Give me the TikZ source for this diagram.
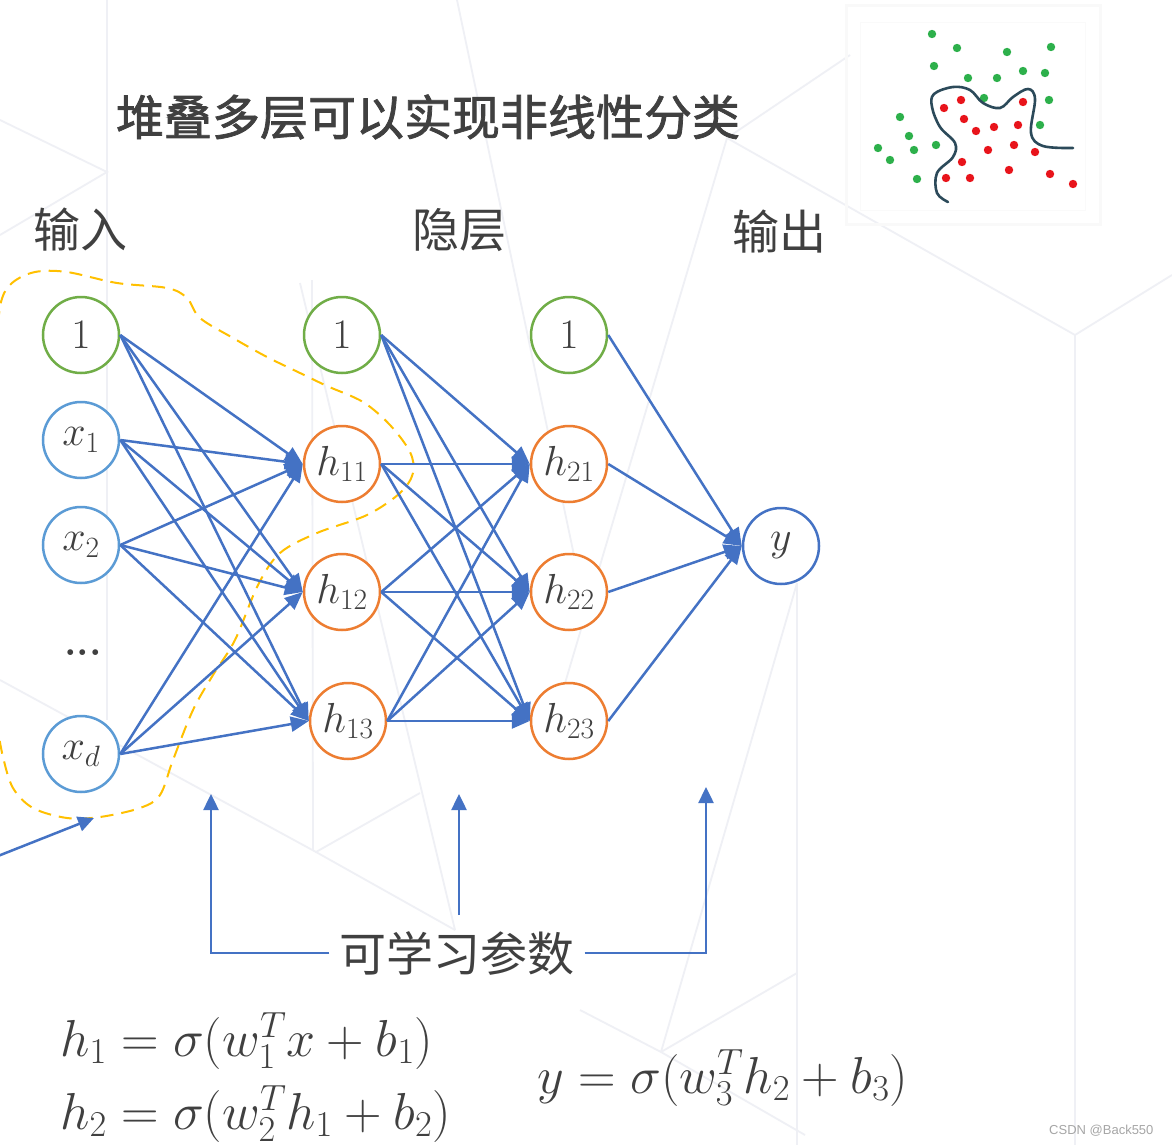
\RequirePackage{fix-cm}
\documentclass[tikz,border=0pt]{standalone}
\usepackage{fontspec}
\newfontfamily\cjk{Noto Sans CJK SC}
\newfontfamily\cjkt{Noto Sans CJK SC}[FakeBold=1.6]
\newfontfamily\wmfont{Liberation Sans}
\usetikzlibrary{arrows.meta}
\definecolor{eblue}{HTML}{4472C4}
\definecolor{cgreen}{HTML}{70AD47}
\definecolor{cin}{HTML}{5B9BD5}
\definecolor{corange}{HTML}{ED7D31}
\definecolor{cyellow}{HTML}{FFC000}
\definecolor{ctext}{HTML}{404040}
\definecolor{bgl}{HTML}{EFF0F5}
\definecolor{dgreen}{HTML}{2DB04B}
\definecolor{dred}{HTML}{E8141B}
\definecolor{cslate}{HTML}{2C4A5A}
\begin{document}
\begin{tikzpicture}[x=1pt,y=-1pt,
  neuron/.style={circle,draw,line width=2.5pt,minimum size=76pt,inner sep=0pt,fill=white,
    text=ctext,font=\fontsize{42}{50}\selectfont},
  bias/.style={neuron,draw=cgreen},
  inp/.style={neuron,draw=cin},
  hid/.style={neuron,draw=corange},
  outn/.style={neuron,draw=eblue},
  edge/.style={draw=eblue,line width=2.5pt,-{Triangle[length=18pt,width=15pt]}},
  barrow/.style={draw=eblue,line width=2.5pt,-{Triangle[length=16pt,width=15pt]}},
  lbl/.style={text=ctext,font=\cjk\fontsize{47}{55}\selectfont,inner sep=10pt},
  frm/.style={text=ctext,font=\fontsize{52}{62}\selectfont,inner sep=0pt},
  bgline/.style={draw=bgl,line width=1.8pt},
  gdot/.style={fill=dgreen},
  rdot/.style={fill=dred}]
\useasboundingbox (0,0) rectangle (1172,1145);
\fill[white] (0,0) rectangle (1172,1145);
% faint background mesh
\draw[bgline] (107,0) -- (107,720);
\draw[bgline] (0,120) -- (107,172) -- (0,235);
\draw[bgline] (312,280) -- (313,850);
\draw[bgline] (300,283) -- (455,930);
\draw[bgline] (457,0) -- (575,560);
\draw[bgline] (0,680) -- (316,852) -- (455,930);
\draw[bgline] (316,852) -- (420,793);
\draw[bgline] (727,138) -- (560,700);
\draw[bgline] (727,138) -- (850,55);
\draw[bgline] (727,138) -- (1075,335) -- (1172,275);
\draw[bgline] (1075,335) -- (1075,1145);
\draw[bgline] (797,583) -- (797,1145);
\draw[bgline] (797,583) -- (661,1052);
\draw[bgline] (580,1010) -- (661,1052) -- (805,1135);
\draw[bgline] (661,1052) -- (797,973);
% inset
\draw[draw=gray!5,line width=3pt] (846,6) rectangle (1100,224);
\draw[draw=gray!4,line width=1pt] (860,23) rectangle (1085,210);
\foreach \p in {(932,34),(957,48),(1007,52),(1051,47),(934,66),(968,78),(997,78),(1023,71),(1045,73),(984,98),(1049,100),(900,117),(1040,125),(909,136),(878,148),(914,150),(936,145),(890,160),(917,179)}
  \fill[gdot] \p circle (4.2);
\foreach \p in {(961,100),(944,108),(1023,102),(964,119),(976,131),(994,127),(1018,125),(988,150),(1014,145),(1035,152),(962,162),(946,178),(970,178),(1009,170),(1050,174),(1073,184)}
  \fill[rdot] \p circle (4.2);
\draw[cslate,line width=2.6pt,line cap=round] plot[smooth,tension=0.6] coordinates {(948,202) (937,193) (937,173) (953,157) (955,143) (940,127) (932,107) (934,94) (953,87) (970,90) (983,103) (1000,108) (1013,97) (1028,89) (1035,99) (1031,133) (1043,146) (1073,148)};
% titles
\node[text=ctext,font=\cjkt\fontsize{48}{56}\selectfont] (title) at (428,117) {堆叠多层可以实现非线性分类};
\node[lbl] (lin) at (80,230) {输入};
\node[lbl] (lhid) at (459,230) {隐层};
\node[lbl] (lout) at (779,232) {输出};
% yellow dashed loop
\begin{scope}
\clip (0,0) rectangle (1172,1145);
\draw[cyellow,line width=2pt,dash pattern=on 13pt off 8pt] plot[smooth,tension=0.55] coordinates {(-4,345) (1,302) (12,283) (35,272) (67,272) (117,283) (167,288) (187,298) (200,318) (233,338) (267,357) (300,373) (327,386) (363,402) (390,425) (410,452) (413,473) (400,493) (367,515) (317,533) (280,553) (258,585) (235,640) (213,675) (193,710) (173,760) (160,795) (140,808) (100,817) (67,818) (33,808) (13,788) (3,757) (-3,725)};
\end{scope}
% nodes
\node[bias] (b0) at (81,335) {$1$};
\node[inp] (x1) at (81,440) {$x_1$};
\node[inp] (x2) at (81,545) {$x_2$};
\node[text=ctext,font=\fontsize{40}{48}\selectfont\bfseries] (dots) at (83,653) {...};
\node[inp] (xd) at (81,754) {$x_d$};
\node[bias] (b1) at (342,335) {$1$};
\node[hid] (h11) at (342,464) {$h_{11}$};
\node[hid] (h12) at (342,592) {$h_{12}$};
\node[hid] (h13) at (348,721) {$h_{13}$};
\node[bias] (b2) at (569,335) {$1$};
\node[hid] (h21) at (569,464) {$h_{21}$};
\node[hid] (h22) at (569,592) {$h_{22}$};
\node[hid] (h23) at (569,721) {$h_{23}$};
\node[outn] (yy) at (781,546) {$y$};
% edges
\foreach \s in {b0,x1,x2,xd}
  \foreach \t in {h11,h12,h13}
    \draw[edge] (\s.east) -- (\t.west);
\foreach \s in {b1,h11,h12,h13}
  \foreach \t in {h21,h22,h23}
    \draw[edge] (\s.east) -- (\t.west);
\foreach \s in {b2,h21,h22,h23}
  \draw[edge] (\s.east) -- (yy.west);
% learnable parameters
\node[lbl] (lp) at (457,953) {可学习参数};
\coordinate (la) at (211,794);
\coordinate (ma) at (459,794);
\coordinate (mb) at (459,915);
\coordinate (ra) at (706,787);
\draw[barrow] (lp.west) -| (la);
\draw[barrow] (mb) -- (ma);
\draw[barrow] (lp.east) -| (ra);
\coordinate (bs) at (-2,856);
\coordinate (bt) at (94,818);
\draw[barrow] (bs) -- (bt);
% formulas
\node[frm,anchor=base west] (f1) at (60,1056) {$h_1=\sigma(w_1^Tx+b_1)$};
\node[frm,anchor=base west] (f2) at (60,1129) {$h_2=\sigma(w_2^Th_1+b_2)$};
\node[frm,anchor=base west] (f3) at (537,1093) {$y=\sigma(w_3^Th_2+b_3)$};
\node[text=gray!70,font=\wmfont\fontsize{13}{15}\selectfont,anchor=east] (wm) at (1157,1131) {CSDN @Back550};
\end{tikzpicture}
\end{document}
